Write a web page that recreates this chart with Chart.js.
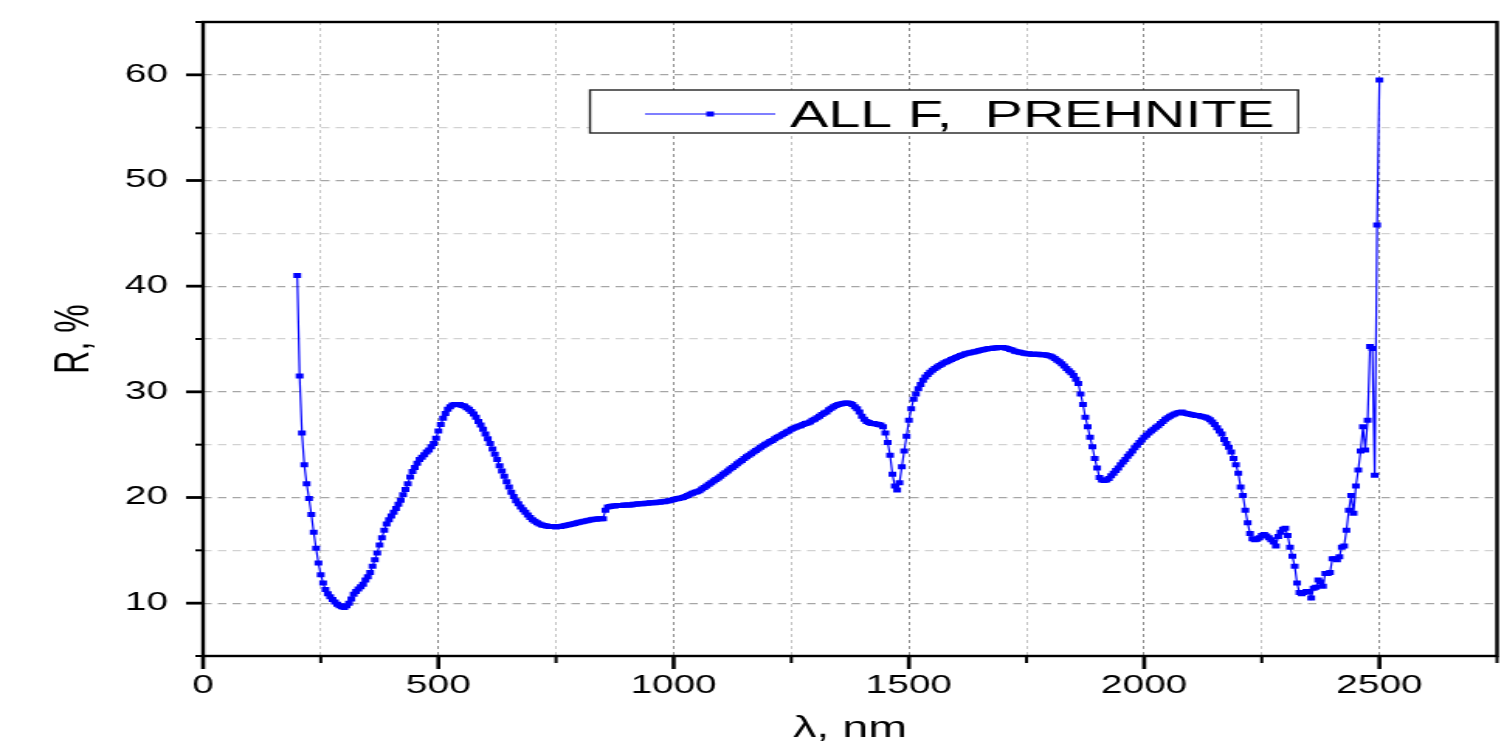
<!DOCTYPE html>
<html>
<head>
<meta charset="utf-8">
<script src="https://cdn.jsdelivr.net/npm/chart.js@4.4.1/dist/chart.umd.min.js"></script>
<style>
html, body { margin: 0; padding: 0; background: #fff; overflow: hidden; }
</style>
</head>
<body>
<!-- the original figure is stretched sideways, so the canvas is drawn narrow and widened by css -->
<canvas id="myChart" width="970" height="744" style="width:1504px;height:744px"></canvas>
<script>
// Data
var seriesLabel = 'ALL F,  PREHNITE';
var xTitle = 'λ, nm';
var yTitle = 'R, %';

// wavelength grid, nm (one reading every 5 nm from 200 to 2500)
var wlStart = 200;
var wlStep = 5;

// reflectance R, %
var reflectance = [
  41.0, 31.5, 26.1, 23.1, 21.3, 19.9, 18.4, 16.7, 15.2, 13.8, 12.7, 11.9, 11.3, 10.9, 10.6, 10.35, 10.1, 9.9, 9.75, 9.65,
  9.6, 9.75, 10.0, 10.4, 10.85, 11.1, 11.35, 11.55, 11.8, 12.2, 12.5, 12.9, 13.5, 14.1, 14.75, 15.5, 16.2, 16.9, 17.5, 17.9,
  18.25, 18.6, 18.95, 19.35, 19.75, 20.25, 20.75, 21.3, 21.95, 22.45, 22.85, 23.25, 23.6, 23.8, 24.05, 24.3, 24.5, 24.8, 25.1, 25.6,
  26.3, 26.9, 27.5, 27.95, 28.35, 28.6, 28.75, 28.8, 28.8, 28.8, 28.7, 28.65, 28.5, 28.35, 28.15, 27.9, 27.6, 27.2, 26.85, 26.45,
  26.0, 25.55, 25.1, 24.6, 24.1, 23.6, 23.0, 22.5, 22.0, 21.5, 21.0, 20.5, 20.1, 19.7, 19.4, 19.1, 18.85, 18.6, 18.35, 18.1,
  17.9, 17.75, 17.6, 17.5, 17.4, 17.35, 17.3, 17.25, 17.25, 17.25, 17.2, 17.25, 17.25, 17.3, 17.35, 17.4, 17.45, 17.5, 17.55, 17.6,
  17.65, 17.7, 17.75, 17.8, 17.85, 17.9, 17.95, 17.95, 18.0, 18.0, 18.0, 18.8, 19.1, 19.15, 19.2, 19.2, 19.25, 19.25, 19.25, 19.3,
  19.3, 19.3, 19.3, 19.35, 19.35, 19.4, 19.4, 19.4, 19.45, 19.45, 19.5, 19.5, 19.5, 19.55, 19.55, 19.6, 19.6, 19.65, 19.7, 19.75,
  19.8, 19.85, 19.9, 19.95, 20.0, 20.1, 20.2, 20.3, 20.4, 20.5, 20.55, 20.65, 20.8, 20.95, 21.1, 21.25, 21.4, 21.55, 21.7, 21.85,
  22.0, 22.2, 22.35, 22.5, 22.7, 22.85, 23.0, 23.2, 23.35, 23.5, 23.7, 23.85, 24.0, 24.15, 24.3, 24.45, 24.6, 24.75, 24.9, 25.05,
  25.15, 25.3, 25.4, 25.55, 25.7, 25.8, 25.95, 26.05, 26.2, 26.3, 26.45, 26.55, 26.65, 26.75, 26.8, 26.9, 27.0, 27.05, 27.15, 27.3,
  27.4, 27.55, 27.7, 27.85, 28.0, 28.1, 28.3, 28.45, 28.6, 28.7, 28.8, 28.85, 28.9, 28.95, 28.95, 28.9, 28.8, 28.6, 28.4, 28.1,
  27.7, 27.4, 27.2, 27.1, 27.0, 27.0, 26.95, 26.9, 26.85, 26.7, 26.1, 25.2, 24.0, 22.2, 21.1, 20.7, 21.4, 22.9, 24.4, 25.8,
  27.3, 28.4, 29.3, 29.8, 30.3, 30.7, 31.1, 31.4, 31.65, 31.85, 32.05, 32.2, 32.35, 32.5, 32.6, 32.75, 32.85, 32.95, 33.05, 33.15,
  33.25, 33.35, 33.45, 33.5, 33.6, 33.65, 33.7, 33.75, 33.8, 33.85, 33.9, 33.95, 34.0, 34.05, 34.1, 34.1, 34.15, 34.15, 34.2, 34.2,
  34.2, 34.15, 34.1, 34.0, 33.95, 33.85, 33.8, 33.75, 33.7, 33.65, 33.6, 33.6, 33.55, 33.55, 33.55, 33.55, 33.5, 33.5, 33.5, 33.45,
  33.4, 33.3, 33.15, 33.0, 32.85, 32.65, 32.45, 32.2, 32.0, 31.8, 31.55, 31.2, 30.8, 29.8, 28.8, 27.6, 26.7, 25.7, 24.8, 23.7,
  22.8, 21.9, 21.65, 21.6, 21.65, 21.8, 22.05, 22.3, 22.55, 22.8, 23.1, 23.35, 23.6, 23.9, 24.15, 24.4, 24.7, 24.95, 25.2, 25.45,
  25.7, 25.9, 26.1, 26.3, 26.45, 26.65, 26.8, 27.0, 27.2, 27.4, 27.55, 27.7, 27.8, 27.9, 28.0, 28.05, 28.1, 28.0, 27.95, 27.9,
  27.85, 27.8, 27.75, 27.75, 27.7, 27.65, 27.6, 27.5, 27.35, 27.15, 26.9, 26.6, 26.3, 26.0, 25.5, 25.1, 24.75, 24.3, 23.7, 23.1,
  22.3, 21.0, 20.2, 18.8, 17.6, 16.6, 16.1, 16.0, 16.05, 16.2, 16.4, 16.5, 16.35, 16.2, 16.0, 15.8, 15.4, 16.3, 16.7, 17.0,
  17.1, 16.4, 15.3, 14.45, 13.5, 11.9, 11.0, 10.9, 11.0, 11.1, 11.1, 10.5, 11.4, 11.5, 12.2, 12.0, 11.6, 12.8, 12.8, 12.9,
  14.2, 14.2, 14.1, 14.4, 15.3, 15.4, 16.9, 18.8, 20.2, 18.5, 21.1, 22.6, 24.4, 26.7, 24.5, 27.3, 34.3, 34.1, 22.1, 45.8,
  59.5
];

// axes
var xTickValues = [0, 250, 500, 750, 1000, 1250, 1500, 1750, 2000, 2250, 2500, 2750];
var xLabelValues = [0, 500, 1000, 1500, 2000, 2500];
var yTickValues = [5, 10, 15, 20, 25, 30, 35, 40, 45, 50, 55, 60, 65];
var yLabelValues = [10, 20, 30, 40, 50, 60];

var fontFam = '"Liberation Sans", Arial, Helvetica, sans-serif';
var blue = '#0000ff';
var markSide = 5;

var points = [];
for (let i = 0; i < reflectance.length; i++) {
	points.push({ x: wlStart + i * wlStep, y: reflectance[i] });
}

function noPad(scale) {
	scale.paddingTop = 0;
	scale.paddingBottom = 0;
	scale.paddingLeft = 0;
	scale.paddingRight = 0;
}

// box, tick marks and the legend are drawn by hand
var framePlugin = {
	id: 'frame',
	afterDraw: function(chart) {
		const c = chart.ctx;
		const a = chart.chartArea;
		const xs = chart.scales.x;
		const ys = chart.scales.y;
		c.save();
		c.strokeStyle = '#000';
		for (let v of yTickValues) {
			const py = ys.getPixelForValue(v);
			const major = yLabelValues.indexOf(v) >= 0;
			c.lineWidth = major ? 2.8 : 2;
			c.beginPath();
			c.moveTo(a.left - (major ? 11 : 5), py);
			c.lineTo(a.left, py);
			c.stroke();
		}
		for (let v of xTickValues) {
			const px = xs.getPixelForValue(v);
			const major = xLabelValues.indexOf(v) >= 0;
			c.lineWidth = major ? 2.6 : 2;
			c.beginPath();
			c.moveTo(px, a.bottom);
			c.lineTo(px, a.bottom + (major ? 13 : 7));
			c.stroke();
		}
		c.lineWidth = 2.4;
		c.strokeRect(a.left, a.top, a.right - a.left, a.bottom - a.top);

		// legend
		c.fillStyle = '#fff';
		c.fillRect(380.5, 90, 456.7, 43);
		c.lineWidth = 1.4;
		c.strokeStyle = '#222';
		c.strokeRect(380.5, 90, 456.7, 43);
		c.strokeStyle = blue;
		c.lineWidth = 1.2;
		c.beginPath();
		c.moveTo(416, 114);
		c.lineTo(500, 114);
		c.stroke();
		c.fillStyle = blue;
		c.fillRect(458 - markSide / 2, 114 - markSide / 2, markSide, markSide);
		c.fillStyle = '#000';
		c.font = '37px ' + fontFam;
		c.textBaseline = 'alphabetic';
		c.textAlign = 'left';
		c.fillText(seriesLabel, 509.5, 127);
		c.restore();
	}
};

const ctx = document.getElementById('myChart');
var chart1 = new Chart(ctx, {
	type: 'line',
	data: {
		datasets: [{
			label: seriesLabel,
			data: points,
			borderColor: blue,
			backgroundColor: blue,
			borderWidth: 1.2,
			pointStyle: 'rect',
			pointRadius: markSide / Math.SQRT2,
			pointBorderWidth: 0,
			pointBackgroundColor: blue,
			tension: 0,
			fill: false
		}]
	},
	options: {
		responsive: false,
		animation: false,
		events: [],
		layout: { padding: { top: 22, right: 4.5, left: 0, bottom: 0 } },
		plugins: {
			legend: { display: false },
			tooltip: { enabled: false }
		},
		scales: {
			x: {
				type: 'linear',
				min: 0,
				max: 2750,
				afterBuildTicks: function(scale) {
					scale.ticks = xTickValues.map(v => ({ value: v }));
				},
				afterFit: function(scale) { scale.height = 88; noPad(scale); },
				ticks: {
					autoSkip: false,
					maxRotation: 0,
					padding: 15,
					color: '#000',
					font: { family: fontFam, size: 25 },
					callback: function(v) { return xLabelValues.indexOf(v) >= 0 ? String(v) : ''; }
				},
				grid: {
					drawTicks: false,
					lineWidth: 1,
					color: function(c) {
						return (c.tick && c.tick.value % 500 === 0) ? '#8a8a8a' : '#c4c4c4';
					}
				},
				border: { display: false, dash: [3, 3] },
				title: {
					display: true,
					text: xTitle,
					color: '#000',
					padding: 0,
					font: { family: fontFam, size: 30, lineHeight: 1 }
				}
			},
			y: {
				min: 5,
				max: 65,
				afterBuildTicks: function(scale) {
					scale.ticks = yTickValues.map(v => ({ value: v }));
				},
				afterFit: function(scale) { scale.width = 131; noPad(scale); },
				ticks: {
					autoSkip: false,
					padding: 22.6,
					color: '#000',
					font: { family: fontFam, size: 25 },
					callback: function(v) { return yLabelValues.indexOf(v) >= 0 ? String(v) : ''; }
				},
				grid: {
					drawTicks: false,
					lineWidth: 1.3,
					color: function(c) {
						return (c.tick && c.tick.value % 10 === 0) ? '#a6a6a6' : '#d2d2d2';
					}
				},
				border: { display: false, dash: [5.5, 4] },
				title: {
					display: true,
					text: yTitle,
					color: '#000',
					padding: { top: 32, bottom: 0 },
					font: { family: fontFam, size: 32, lineHeight: 1 }
				}
			}
		}
	},
	plugins: [framePlugin]
});
</script>
</body>
</html>
